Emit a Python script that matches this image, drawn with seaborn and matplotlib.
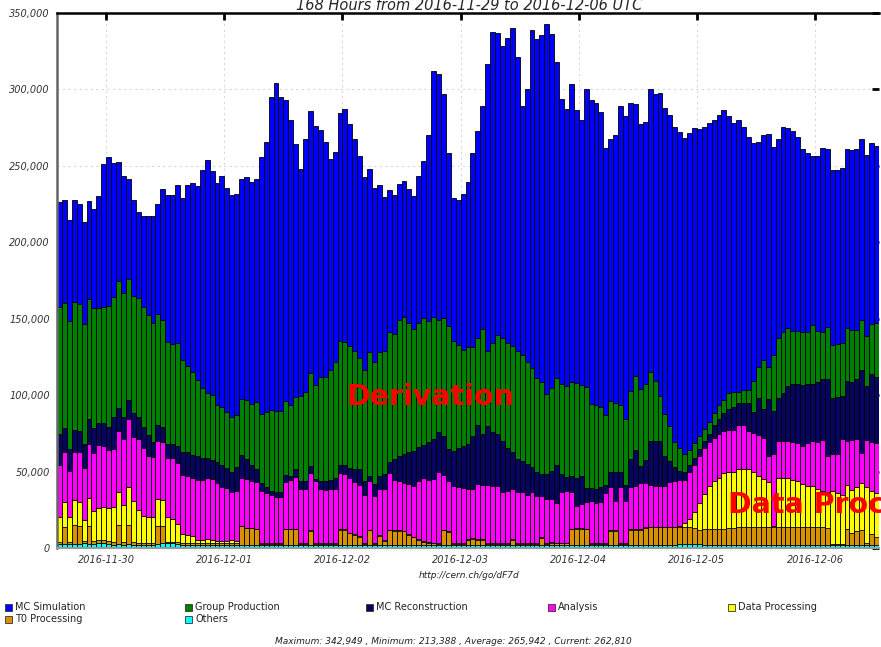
import numpy as np
import pandas as pd
import matplotlib
matplotlib.use("Agg")
import matplotlib.pyplot as plt
from matplotlib.patches import Rectangle
import seaborn as sns

###############################################################################
# data: running jobs per hour (in thousands), 167 hourly bars
# first bar = 2016-11-29 14:00 UTC
###############################################################################
others = [
    2.5, 2.5, 2.5, 2.5, 2.5, 3.0, 2.5, 2.5, 3.0, 3.0,
    2.5, 2.0, 2.5, 2.0, 2.5, 2.0, 2.0, 2.0, 2.0, 2.0,
    2.5, 3.5, 3.5, 3.5, 2.5, 2.0, 2.0, 2.0, 2.0, 2.0,
    2.0, 2.0, 2.0, 2.0, 2.0, 2.0, 2.0, 2.0, 2.0, 2.0,
    2.0, 2.0, 2.0, 2.0, 2.0, 2.0, 2.0, 2.0, 2.0, 2.0,
    2.0, 2.0, 2.0, 2.0, 2.0, 2.0, 2.0, 2.0, 2.0, 2.0,
    2.0, 2.0, 2.0, 2.0, 2.0, 2.0, 2.0, 2.0, 2.0, 2.0,
    2.0, 2.0, 2.0, 2.0, 2.0, 2.0, 2.0, 2.0, 2.0, 2.0,
    2.0, 2.0, 2.0, 2.0, 2.0, 2.0, 2.0, 2.0, 2.0, 2.0,
    2.0, 2.0, 2.0, 2.0, 2.0, 2.0, 2.0, 2.0, 2.0, 2.0,
    2.0, 2.0, 2.0, 2.0, 2.0, 2.0, 2.0, 2.0, 2.0, 2.0,
    2.0, 2.0, 2.0, 2.0, 2.0, 2.0, 2.0, 2.0, 2.0, 2.0,
    2.0, 2.0, 2.0, 2.0, 2.0, 2.0, 2.5, 2.5, 2.8, 2.8,
    2.5, 2.0, 2.0, 2.0, 2.0, 2.0, 2.0, 2.0, 2.0, 2.0,
    2.0, 2.0, 2.0, 2.0, 2.0, 2.0, 2.0, 2.0, 2.0, 2.0,
    2.0, 2.0, 2.0, 2.0, 2.0, 2.0, 2.0, 2.0, 2.0, 2.0,
    2.0, 2.0, 2.0, 2.0, 2.0, 2.0, 2.0,
]

t0_processing = [
    1.6, 11.3, 1.6, 12.7, 11.6, 1.5, 12.1, 2.3, 2.0, 2.0,
    2.0, 2.1, 12.4, 2.1, 12.4, 2.1, 1.5, 1.5, 1.5, 1.5,
    11.6, 11.0, 0.3, 0.5, 1.3, 1.5, 1.5, 1.3, 1.3, 1.3,
    1.3, 1.3, 1.3, 1.3, 1.3, 1.3, 1.3, 12.6, 11.3, 10.8,
    10.4, 0.5, 0.5, 0.5, 0.5, 0.5, 10.3, 10.3, 10.3, 0.5,
    0.5, 9.2, 0.5, 0.3, 0.3, 0.3, 0.3, 10.0, 10.0, 7.8,
    6.8, 5.5, 0.5, 10.0, 0.5, 6.0, 2.5, 9.8, 9.2, 9.2,
    8.8, 6.5, 5.0, 3.5, 2.0, 1.5, 1.0, 0.5, 9.8, 8.5,
    0.5, 0.5, 0.5, 3.5, 4.0, 3.5, 3.5, 0.5, 0.5, 0.5,
    0.5, 0.5, 3.5, 0.5, 0.5, 0.5, 0.5, 0.5, 4.5, 0.5,
    1.5, 1.0, 1.0, 1.0, 10.2, 10.7, 10.7, 10.2, 0.5, 0.5,
    0.5, 0.5, 9.0, 9.0, 0.5, 0.5, 10.0, 10.0, 10.0, 11.0,
    11.5, 11.5, 11.5, 11.5, 11.5, 11.5, 11.0, 11.0, 10.7, 10.2,
    9.5, 10.5, 10.5, 10.5, 10.5, 10.5, 11.0, 11.0, 11.5, 11.5,
    11.5, 11.5, 11.5, 11.5, 11.5, 11.5, 11.5, 11.5, 11.5, 11.5,
    11.5, 11.5, 11.5, 11.5, 11.5, 11.5, 11.0, 0.5, 0.5, 0.5,
    10.5, 8.0, 9.0, 9.5, 1.0, 7.0, 5.0,
]

data_processing = [
    16.1, 16.4, 16.1, 16.5, 16.2, 14.1, 17.9, 19.3, 20.9, 21.6,
    21.4, 22.5, 21.8, 24.3, 25.2, 26.4, 21.5, 17.5, 17.1, 16.9,
    18.0, 17.2, 16.2, 15.0, 12.2, 5.7, 4.8, 4.3, 2.0, 2.0,
    2.4, 2.0, 1.5, 1.3, 1.5, 2.0, 1.3, 0.0, 0.0, 0.0,
    0.0, 1.0, 1.0, 0.8, 0.8, 0.8, 0.0, 0.0, 0.0, 0.5,
    0.8, 0.8, 0.8, 0.7, 0.7, 0.7, 0.7, 0.3, 0.3, 0.2,
    0.2, 0.3, 0.5, 0.0, 0.5, 0.5, 0.5, 0.2, 0.3, 0.3,
    0.2, 0.5, 0.5, 0.5, 0.5, 0.5, 0.5, 0.5, 0.2, 0.3,
    0.5, 0.5, 0.5, 0.5, 0.5, 0.5, 0.5, 0.5, 0.5, 0.5,
    0.5, 0.5, 0.5, 0.5, 0.5, 0.5, 0.5, 0.5, 0.5, 0.5,
    0.5, 0.5, 0.5, 0.5, 0.3, 0.3, 0.3, 0.3, 0.5, 0.5,
    0.5, 0.5, 0.5, 0.5, 0.5, 0.5, 0.5, 0.5, 0.5, 0.5,
    0.5, 0.5, 0.5, 0.5, 0.5, 0.5, 1.0, 3.1, 5.3, 10.6,
    17.7, 22.7, 28.2, 31.5, 33.6, 36.3, 36.9, 36.9, 38.1, 38.1,
    38.1, 35.9, 33.7, 31.5, 29.4, 1.0, 32.0, 32.6, 32.0, 31.1,
    30.5, 28.3, 27.2, 27.2, 25.0, 23.9, 23.7, 35.0, 33.8, 32.5,
    29.0, 28.0, 28.9, 31.1, 37.0, 28.5, 29.0,
]

analysis = [
    34.4, 32.9, 30.3, 31.4, 32.3, 33.7, 35.8, 38.1, 41.3, 40.1,
    38.3, 38.3, 39.7, 42.9, 44.3, 42.0, 46.3, 44.6, 39.7, 39.2,
    37.9, 37.8, 39.2, 39.7, 39.7, 38.5, 38.7, 38.5, 39.4, 39.4,
    40.2, 39.7, 37.9, 35.1, 34.2, 31.6, 32.8, 31.5, 32.1, 31.0,
    30.7, 33.5, 32.6, 31.2, 29.8, 29.8, 31.2, 31.9, 34.2, 35.9,
    35.6, 36.8, 40.7, 35.7, 35.0, 35.5, 35.5, 36.5, 36.1, 36.1,
    33.9, 33.3, 32.0, 32.0, 31.1, 30.0, 33.5, 36.8, 33.1, 32.5,
    31.4, 33.0, 33.2, 38.0, 41.2, 40.6, 41.5, 46.4, 35.9, 33.2,
    37.7, 36.6, 36.2, 32.5, 32.0, 35.8, 35.0, 38.5, 37.3, 37.3,
    33.9, 34.3, 32.7, 33.9, 33.4, 31.6, 33.9, 30.9, 26.9, 29.3,
    28.3, 25.8, 33.4, 33.8, 24.4, 14.7, 15.8, 17.5, 27.6, 26.3,
    27.0, 33.0, 28.4, 19.1, 36.9, 28.0, 27.1, 27.8, 29.7, 29.1,
    27.5, 26.8, 26.8, 26.3, 29.1, 29.8, 30.0, 27.9, 30.7, 31.0,
    30.2, 30.0, 28.4, 28.1, 28.3, 27.9, 27.3, 27.3, 29.0, 29.0,
    25.1, 25.9, 26.5, 26.9, 17.0, 47.0, 24.8, 24.2, 24.8, 25.0,
    24.4, 25.0, 27.7, 29.6, 30.6, 33.3, 23.2, 24.3, 25.2, 36.4,
    28.3, 32.7, 31.5, 19.6, 30.7, 31.6, 32.4,
]

mc_reconstruction = [
    20.2, 15.6, 14.4, 14.4, 13.8, 16.0, 16.1, 16.5, 14.5, 15.4,
    15.2, 20.7, 15.3, 14.3, 12.6, 15.8, 14.3, 13.5, 13.8, 9.9,
    10.3, 9.6, 9.1, 9.2, 10.8, 14.9, 15.6, 14.7, 15.6, 14.5,
    13.3, 12.6, 13.5, 14.4, 13.3, 12.6, 15.4, 14.9, 12.7, 10.8,
    8.7, 5.5, 3.9, 2.8, 3.8, 3.8, 4.2, 2.6, 5.3, 5.1,
    5.1, 5.0, 1.0, 5.3, 6.0, 6.0, 7.0, 5.4, 5.8, 6.2,
    8.7, 10.3, 9.0, 3.0, 7.9, 8.7, 9.8, 7.6, 13.6, 16.4,
    19.0, 20.5, 22.9, 22.3, 21.7, 24.5, 26.3, 26.7, 25.6, 20.7,
    22.9, 25.6, 27.7, 29.5, 35.0, 38.7, 33.6, 38.5, 35.8, 34.3,
    33.3, 27.9, 23.8, 21.3, 20.7, 20.3, 15.8, 16.0, 14.4, 16.2,
    18.4, 25.3, 11.5, 9.2, 10.3, 18.4, 18.4, 9.2, 8.6, 9.2,
    10.0, 5.5, 9.6, 19.4, 10.1, 10.5, 18.7, 23.5, 11.3, 15.0,
    28.3, 29.5, 29.5, 20.1, 13.8, 9.2, 6.2, 5.0, 4.6, 4.2,
    4.6, 5.1, 5.3, 8.5, 9.7, 11.3, 13.8, 15.0, 14.3, 14.3,
    18.2, 13.9, 24.7, 19.1, 37.6, 28.4, 27.6, 31.1, 35.7, 37.5,
    38.7, 39.9, 38.7, 37.3, 39.2, 39.9, 50.7, 36.1, 37.6, 28.1,
    39.6, 38.1, 39.2, 54.2, 35.3, 44.5, 43.4,
]

group_production = [
    83.0, 81.4, 83.3, 83.3, 83.2, 78.0, 78.4, 78.6, 75.6, 75.7,
    79.1, 78.6, 83.1, 80.9, 79.1, 76.8, 77.7, 78.7, 78.2, 78.0,
    72.9, 70.2, 66.6, 65.8, 67.7, 60.1, 56.2, 54.6, 49.3, 45.2,
    42.4, 42.4, 37.4, 37.9, 36.7, 36.1, 33.9, 36.5, 38.5, 39.9,
    43.4, 45.1, 48.7, 53.3, 53.0, 53.0, 48.4, 46.5, 47.3, 55.5,
    58.1, 60.7, 61.7, 67.8, 67.8, 71.9, 76.2, 81.3, 80.6, 79.7,
    77.4, 73.0, 72.4, 80.9, 79.4, 81.2, 80.7, 84.6, 81.9, 88.7,
    90.0, 85.0, 79.9, 80.7, 82.8, 79.5, 79.6, 73.2, 76.7, 80.5,
    71.9, 67.3, 62.6, 63.3, 57.8, 56.6, 68.9, 49.0, 58.0, 64.8,
    67.4, 68.9, 69.5, 70.6, 68.9, 66.8, 65.3, 61.4, 60.5, 52.4,
    54.1, 56.5, 59.2, 59.5, 61.6, 61.7, 59.3, 66.1, 55.3, 54.8,
    52.2, 45.6, 46.6, 44.9, 43.3, 42.6, 44.7, 48.4, 50.6, 49.5,
    45.4, 39.1, 29.2, 27.2, 22.6, 16.6, 15.0, 12.0, 9.7, 9.6,
    8.5, 7.6, 7.9, 7.4, 9.2, 8.8, 10.4, 9.9, 7.2, 8.3,
    8.3, 20.2, 20.3, 32.3, 21.2, 36.1, 39.2, 39.6, 38.0, 34.6,
    34.6, 34.5, 33.9, 38.0, 33.4, 30.6, 33.9, 35.1, 34.5, 34.8,
    34.6, 34.1, 32.3, 32.7, 32.4, 33.2, 35.7,
]

mc_simulation = [
    68.3, 67.4, 66.2, 66.7, 65.6, 67.088, 64.3, 64.3, 72.7, 93.3,
    97.5, 87.6, 78.0, 76.8, 65.4, 62.7, 56.4, 59.6, 65.1, 69.5,
    72.0, 85.3, 95.8, 97.5, 103.6, 106.2, 118.6, 123.6, 126.9, 142.8,
    152.1, 146.6, 145.4, 151.3, 146.3, 145.6, 144.7, 143.6, 145.8, 145.2,
    146.5, 168.4, 176.7, 204.3, 214.2, 205.0, 197.0, 186.7, 165.4, 148.7,
    165.2, 171.7, 169.3, 161.7, 153.6, 138.2, 137.1, 149.1, 152.1, 145.6,
    138.3, 132.1, 126.2, 120.3, 114.3, 108.9, 100.5, 93.3, 91.0, 88.9,
    88.5, 87.5, 86.5, 96.1, 103.3, 121.4, 161.3, 160.6, 147.0, 112.9,
    93.3, 94.9, 102.1, 107.9, 127.2, 135.9, 145.7, 187.8, 203.5, 197.2,
    190.7, 199.3, 208.3, 192.6, 163.2, 178.3, 221.2, 221.7, 226.5, 242.049,
    231.6, 207.1, 186.2, 180.9, 194.9, 178.6, 173.5, 194.7, 198.8, 197.7,
    193.3, 174.4, 171.2, 175.4, 195.9, 198.2, 188.0, 178.1, 173.1, 171.9,
    184.8, 187.8, 198.4, 200.2, 203.9, 205.7, 206.2, 206.9, 207.4, 206.5,
    201.4, 197.4, 195.8, 192.0, 189.9, 189.6, 180.9, 176.0, 177.9, 172.1,
    165.7, 155.6, 147.0, 147.0, 152.0, 136.2, 130.2, 134.3, 130.7, 130.9,
    127.4, 119.9, 117.3, 110.9, 114.8, 120.3, 116.6, 114.2, 113.6, 114.5,
    117.1, 117.7, 118.2, 118.2, 119.0, 117.9, 115.31,
]

# stacking order, bottom -> top
series_names = ["Others", "T0 Processing", "Data Processing", "Analysis",
                "MC Reconstruction", "Group Production", "MC Simulation"]
series_values = [others, t0_processing, data_processing, analysis,
                 mc_reconstruction, group_production, mc_simulation]
series_colors = ["#00ffff", "#d69200", "#ffff00", "#ff00ff",
                 "#05055f", "#008000", "#0000ff"]

day_labels = ["2016-11-30", "2016-12-01", "2016-12-02", "2016-12-03",
              "2016-12-04", "2016-12-05", "2016-12-06"]
first_midnight = 10   # index of the 2016-11-30 00:00 bar

###############################################################################
# dataframe + cumulative stacks
###############################################################################
df = pd.DataFrame({n: np.array(v) * 1000 for n, v in zip(series_names, series_values)})
df["hour"] = np.arange(len(df))
stack = df[series_names].cumsum(axis=1)
n_bars = len(df)

###############################################################################
# plot
###############################################################################
sns.set_style("white")
W, H = 881, 647
fig = plt.figure(figsize=(W / 100, H / 100), dpi=100)
ax = fig.add_axes([57 / W, 1 - 548 / H, 822 / W, 535 / H])

# draw tallest stack first, then cover it with the lower ones
for name, color in reversed(list(zip(series_names, series_colors))):
    sns.barplot(x=df["hour"], y=stack[name], color=color, saturation=1,
                width=1.0, edgecolor="black", linewidth=0.6,
                errorbar=None, orient="v", ax=ax)

ax.set_xlim(-0.5, n_bars - 0.5)
ax.set_ylim(0, 350000)
ax.set_xlabel("")
ax.set_ylabel("")

xticks = [first_midnight - 0.5 + 24 * k for k in range(len(day_labels))]
ax.set_xticks(xticks)
ax.set_xticklabels(day_labels)
yticks = list(range(0, 350001, 50000))
ax.set_yticks(yticks)
ax.set_yticklabels([f"{v:,}" for v in yticks])

ax.tick_params(axis="both", direction="in", length=5, width=2,
               top=True, right=True, labelsize=7, pad=5, colors="black",
               labelcolor="#333333")
for lbl in ax.get_xticklabels() + ax.get_yticklabels():
    lbl.set_style("italic")

ax.set_axisbelow(True)
ax.grid(True, linestyle=(0, (2, 3)), color="#d8d8d8", linewidth=0.8)
ax.spines["top"].set_color("black")
ax.spines["top"].set_linewidth(1.8)
ax.spines["left"].set_color("#666666")
ax.spines["left"].set_linewidth(1.8)
ax.spines["bottom"].set_color("#999999")
ax.spines["bottom"].set_linewidth(1.5)
ax.spines["right"].set_visible(False)

# title (cut by the top edge like the original)
fig.text(469 / W, 1 - 6 / H, "168 Hours from 2016-11-29 to 2016-12-06 UTC",
         style="italic", fontsize=10.5, ha="center", va="center")

fig.text(469 / W, 1 - 576 / H, "http://cern.ch/go/dF7d", style="italic",
         fontsize=6.5, ha="center", va="center", color="#222222")

# red labels on top of the bars
fig.text(430 / W, 1 - 397 / H, "Derivation", color="red", fontsize=20.5,
         fontweight="bold", ha="center", va="center")
fig.text(728 / W, 1 - 505 / H, "Data Processing", color="red", fontsize=20.5,
         fontweight="bold", ha="left", va="center")

###############################################################################
# legend (5 columns, 2 rows)
###############################################################################
color_of = dict(zip(series_names, series_colors))
legend_order = ["MC Simulation", "Group Production", "MC Reconstruction",
                "Analysis", "Data Processing", "T0 Processing", "Others"]
legend_pos = [(5, 607), (185, 607), (366, 607), (548, 607), (728, 607),
              (5, 619), (185, 619)]
for name, (px, py) in zip(legend_order, legend_pos):
    fig.patches.append(Rectangle((px / W, 1 - (py + 3.5) / H), 7 / W, 7 / H,
                                 transform=fig.transFigure,
                                 facecolor=color_of[name], edgecolor="#333333",
                                 linewidth=0.6))
    fig.text((px + 10) / W, 1 - py / H, name, fontsize=7, ha="left",
             va="center", color="#222222")

fig.text(453 / W, 1 - 642 / H,
         "Maximum: 342,949 , Minimum: 213,388 , Average: 265,942 , Current: 262,810",
         style="italic", fontsize=6.5, ha="center", va="center", color="#222222")

fig.savefig("out.png", dpi=100)
